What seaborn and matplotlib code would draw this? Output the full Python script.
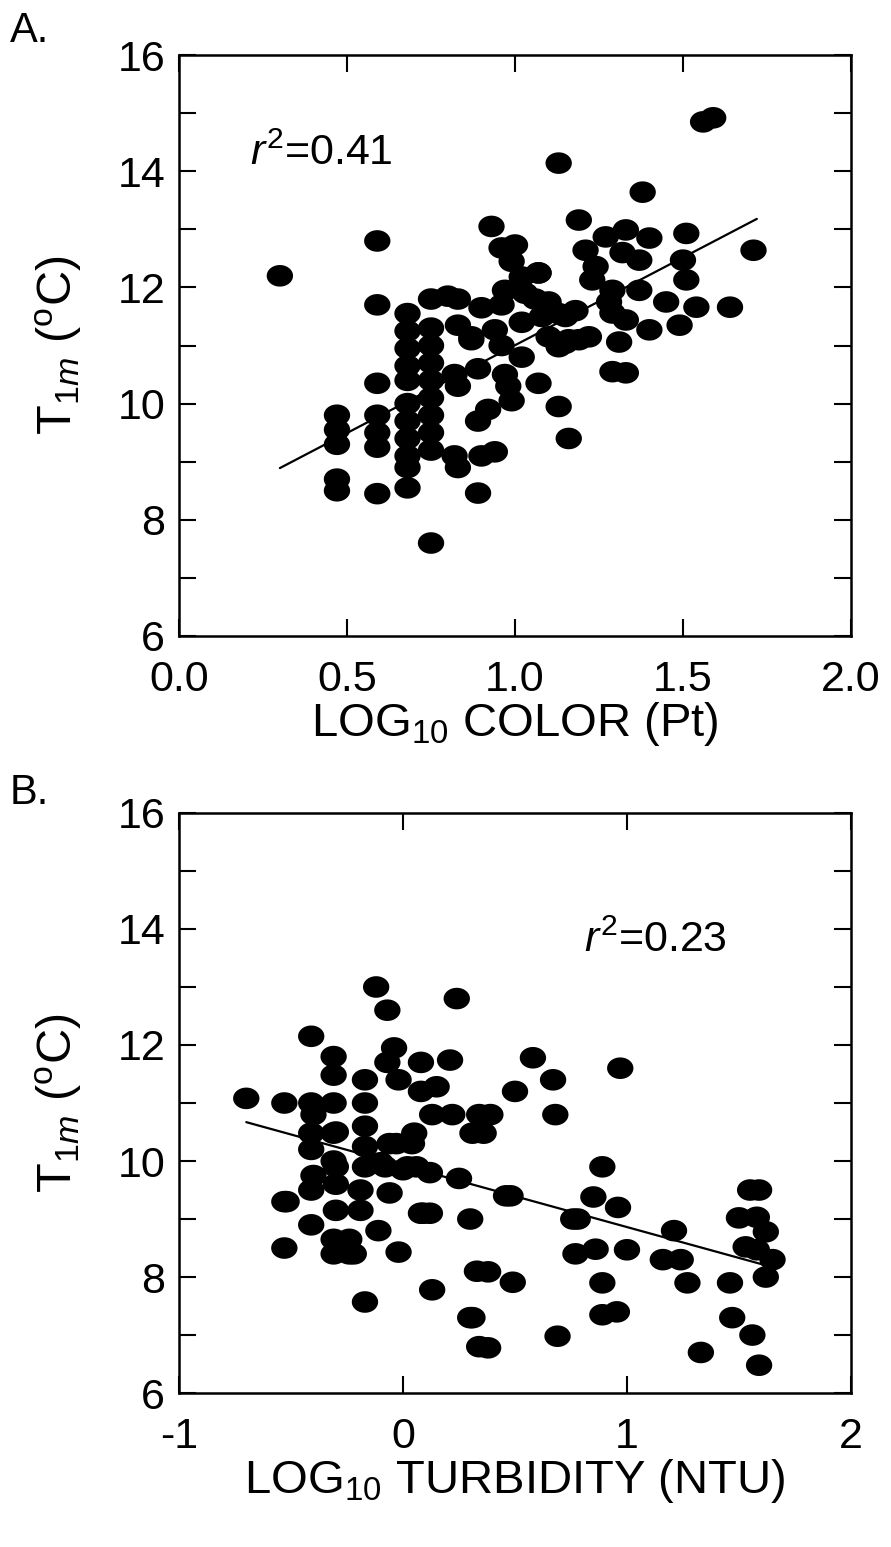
import numpy as np
import pandas as pd
import matplotlib
matplotlib.use("Agg")
import matplotlib.pyplot as plt
import seaborn as sns
from matplotlib.path import Path
from matplotlib.ticker import MultipleLocator

# ---------------- Panel A data: LOG10 COLOR (Pt) vs T1m ----------------
color_x = [0.30, 0.59, 0.59, 0.59,
           0.47, 0.47, 0.47, 0.47, 0.47,
           0.59, 0.59, 0.59, 0.59,
           0.68, 0.68, 0.68, 0.68, 0.68, 0.68, 0.68, 0.68, 0.68, 0.68, 0.68,
           0.75, 0.75, 0.75, 0.75, 0.75, 0.75, 0.75, 0.75, 0.75, 0.75,
           0.83, 0.83, 0.87, 0.90, 0.96, 0.82, 0.89, 0.83, 0.89, 0.92,
           0.98, 0.97, 1.02, 0.83, 0.82, 0.90, 0.94, 0.89, 0.99, 0.80,
           0.94, 0.87, 1.02, 1.08, 1.15,
           0.93, 0.96, 1.00, 0.99, 1.02, 1.07, 0.97, 1.03, 1.06, 1.10, 1.13, 1.18,
           1.10, 1.16, 1.22, 1.13, 1.07, 1.13, 1.16, 0.96, 1.19, 1.15,
           1.56, 1.59, 1.13, 1.38, 1.19, 1.51, 1.71,
           1.21, 1.27, 1.33, 1.40, 1.37, 1.32, 1.24, 1.23, 1.29, 1.37,
           1.50, 1.51, 1.45, 1.54, 1.64, 1.28, 1.29, 1.33, 1.40, 1.49,
           1.31, 1.29, 1.33, 1.07]
color_t = [12.2, 12.8, 11.7, 10.35,
           9.8, 9.55, 9.3, 8.7, 8.5,
           9.8, 9.5, 9.25, 8.45,
           11.55, 11.25, 10.95, 10.65, 10.4, 10.0, 9.7, 9.4, 9.1, 8.9, 8.55,
           11.8, 11.3, 11.0, 10.7, 10.4, 10.1, 9.8, 9.5, 9.2, 7.6,
           11.8, 11.35, 11.15, 11.65, 11.0, 10.5, 10.6, 10.3, 9.7, 9.9,
           10.3, 10.5, 10.8, 8.9, 9.1, 9.1, 9.17, 8.46, 10.05, 11.85,
           11.27, 11.1, 11.4, 11.5, 11.5,
           13.05, 12.68, 12.73, 12.45, 12.18, 12.25, 11.95, 11.9, 11.8, 11.75, 11.55, 11.6,
           11.15, 11.1, 11.15, 10.98, 10.35, 9.95, 9.4, 11.7, 11.1, 11.04,
           14.85, 14.92, 14.14, 13.64, 13.16, 12.93, 12.64,
           12.64, 12.87, 12.99, 12.85, 12.47, 12.6, 12.36, 12.13, 11.95, 11.95,
           12.47, 12.13, 11.75, 11.66, 11.66, 11.75, 11.56, 11.44, 11.27, 11.35,
           11.06, 10.55, 10.53, 12.25]

# ---------------- Panel B data: LOG10 TURBIDITY (NTU) vs T1m ----------------
turb_x = [-0.70, -0.53, -0.41, -0.41, -0.31, -0.31, -0.31, -0.17, -0.17,
          -0.12, -0.07, 0.24, -0.04, -0.07, -0.02, 0.08, 0.21, 0.15, 0.08,
          -0.17, -0.41, -0.31, -0.41, -0.31, 0.13, 0.22, 0.05, -0.03, -0.17,
          -0.10, 0.02, 0.12, 0.25, 0.31, 0.34, 0.39, 0.36,
          -0.41, -0.53, -0.41, -0.53, -0.31, -0.24, -0.31, -0.24, -0.11, -0.02,
          0.08, 0.12, 0.30, -0.17, 0.13, 0.30, 0.34, 0.33,
          -0.40, -0.30, -0.19, -0.06, -0.30, -0.19, -0.17, -0.08, 0.00, 0.06,
          -0.06, 0.04, -0.30, 0.09, -0.52, -0.22, -0.40, -0.30,
          0.58, 0.67, 0.50, 0.97, 0.68, 0.89, 0.46, 0.85, 0.96, 0.76, 1.21,
          1.55, 1.59, 1.50, 1.58, 1.62, 1.53, 1.58, 1.65, 1.62,
          0.77, 0.86, 1.00, 1.16, 1.24, 1.27, 1.46, 0.89, 0.38, 0.49,
          0.89, 0.955, 1.47, 1.56, 1.59, 1.33, 0.69, 0.38, 0.31, 0.78, 0.48]
turb_t = [11.08, 11.0, 12.15, 11.0, 11.0, 11.8, 11.48, 11.4, 11.0,
          13.0, 12.6, 12.8, 11.95, 11.7, 11.4, 11.7, 11.74, 11.28, 11.2,
          10.6, 10.48, 10.48, 10.2, 10.0, 10.8, 10.8, 10.48, 10.3, 10.25,
          9.97, 9.9, 9.8, 9.7, 10.48, 10.8, 10.8, 10.48,
          9.5, 9.3, 8.9, 8.5, 8.65, 8.65, 8.4, 8.4, 8.8, 8.43,
          9.1, 9.1, 9.0, 7.57, 7.78, 7.3, 6.8, 8.1,
          9.75, 9.6, 9.5, 9.45, 9.15, 9.15, 9.9, 9.9, 9.85, 9.9,
          10.3, 10.3, 9.9, 9.1, 9.3, 8.4, 10.8, 10.5,
          11.78, 11.4, 11.2, 11.6, 10.8, 9.9, 9.4, 9.38, 9.2, 9.0, 8.8,
          9.5, 9.5, 9.02, 9.03, 8.78, 8.52, 8.47, 8.3, 8.0,
          8.4, 8.48, 8.47, 8.3, 8.3, 7.9, 7.9, 7.9, 8.09, 7.91,
          7.35, 7.4, 7.3, 7.0, 6.48, 6.7, 6.98, 6.78, 7.3, 9.0, 9.4]

# regression lines (end points)
fitA_x = [0.30, 1.72]
fitA_y = [8.89, 13.18]
fitB_x = [-0.70, 1.65]
fitB_y = [10.67, 8.17]

dfA = pd.DataFrame({"x": color_x, "t": color_t})
dfB = pd.DataFrame({"x": turb_x, "t": turb_t})

sns.set_theme(style="ticks")
plt.rcParams['font.family'] = ['Liberation Sans', 'DejaVu Sans']
plt.rcParams['mathtext.fontset'] = 'custom'
plt.rcParams['mathtext.rm'] = 'Liberation Sans'
plt.rcParams['mathtext.it'] = 'Liberation Sans:italic'
plt.rcParams['axes.unicode_minus'] = False
for k in ['text.color', 'axes.labelcolor', 'xtick.color', 'ytick.color',
          'xtick.labelcolor', 'ytick.labelcolor', 'axes.edgecolor']:
    plt.rcParams[k] = 'black'

fig = plt.figure(figsize=(8.91, 15.47), dpi=100)
axA = fig.add_axes([0.201, 0.5889, 0.754, 0.3755])
axB = fig.add_axes([0.201, 0.0995, 0.754, 0.3750])

# slightly wide elliptical dot, like the scanned figure
tt = np.linspace(0, 2 * np.pi, 64)
ell = Path(np.column_stack([1.22 * np.cos(tt), np.sin(tt)]), closed=True)

ylab = r'T$_{1\mathit{m}}$ ($^{\mathrm{o}}$C)'

for ax, df, fx, fy, xl, xlim, xmaj in [
        (axA, dfA, fitA_x, fitA_y, r'LOG$_{10}$ COLOR (Pt)', (0, 2), 0.5),
        (axB, dfB, fitB_x, fitB_y, r'LOG$_{10}$ TURBIDITY (NTU)', (-1, 2), 1)]:
    sns.scatterplot(data=df, x="x", y="t", ax=ax, color="black", marker=ell,
                    s=360, edgecolor="none", linewidth=0, zorder=3)
    sns.lineplot(x=fx, y=fy, ax=ax, color="black", linewidth=1.6, sort=False, zorder=2)
    ax.set_xlim(*xlim)
    ax.set_ylim(6, 16)
    ax.xaxis.set_major_locator(MultipleLocator(xmaj))
    ax.yaxis.set_major_locator(MultipleLocator(2))
    ax.yaxis.set_minor_locator(MultipleLocator(1))
    ax.tick_params(which="both", direction="in", top=True, right=True,
                   width=1.5, color="black")
    ax.tick_params(which="major", length=12, labelsize=31)
    ax.tick_params(axis="y", which="major", pad=10)
    ax.tick_params(axis="x", which="major", pad=17)
    ax.tick_params(which="minor", length=12)
    ax.set_xlabel(xl, fontsize=34, labelpad=0)
    ax.set_ylabel(ylab, fontsize=35, labelpad=24)
    for sp in ax.spines.values():
        sp.set_linewidth(1.8)
        sp.set_color("black")

axA.text(0.21, 14.3, r'$r^2$=0.41', fontsize=31, va='center', ha='left')
axB.text(0.81, 13.8, r'$r^2$=0.23', fontsize=31, va='center', ha='left')

fig.text(0.011, 0.993, "A.", fontsize=30, va='top', ha='left')
fig.text(0.011, 0.500, "B.", fontsize=30, va='top', ha='left')

fig.savefig("out.png", dpi=100)
